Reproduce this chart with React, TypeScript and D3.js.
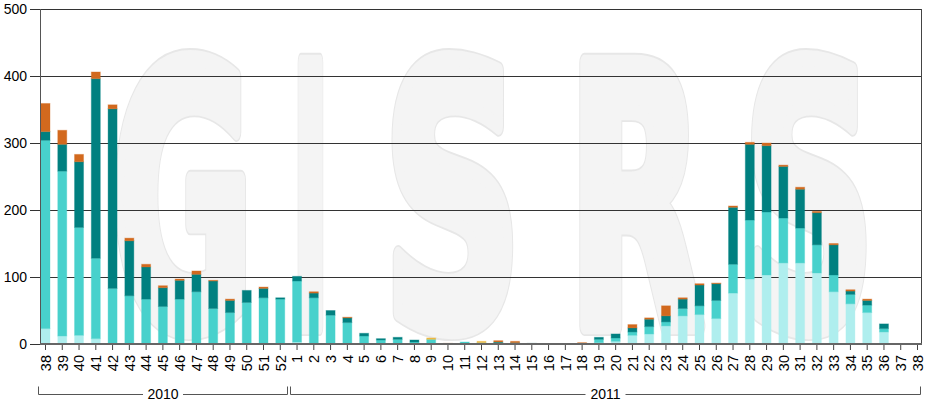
import React, { useEffect, useRef } from 'react';
import * as d3 from 'd3';

// ISO weeks, 2010 w38 -> 2011 w38
const weeks = [
  '38', '39', '40', '41', '42', '43', '44', '45', '46', '47', '48', '49', '50', '51', '52',
  '1', '2', '3', '4', '5', '6', '7', '8', '9', '10', '11', '12', '13', '14', '15', '16', '17', '18', '19',
  '20', '21', '22', '23', '24', '25', '26', '27', '28', '29', '30', '31', '32', '33', '34', '35', '36', '37', '38',
];

const years = [
  { label: '2010', from: 0, to: 14 },
  { label: '2011', from: 15, to: 52 },
];

const paleValues = [
  23, 12, 13, 8, 0, 0, 0, 0, 0, 0, 0, 0, 0, 0, 0,
  3, 0, 0, 0, 0, 0, 0, 0, 0, 0, 1, 1, 0, 0, 0, 0, 0, 0, 2,
  4, 13, 15, 27, 42, 44, 38, 76, 97, 103, 121, 121, 106, 78, 60, 47, 18, 0, 0,
];
const mediumValues = [
  281, 246, 161, 120, 83, 72, 67, 56, 67, 78, 53, 47, 62, 69, 67,
  91, 69, 43, 32, 12, 6, 7, 3, 7, 0, 2, 1, 2, 1, 0, 0, 0, 0, 5,
  5, 5, 11, 6, 11, 13, 27, 43, 88, 94, 67, 52, 42, 25, 14, 11, 5, 0, 0,
];
const tealValues = [
  13, 40, 98, 268, 268, 82, 48, 28, 28, 26, 41, 18, 18, 14, 2,
  7, 7, 7, 7, 4, 2, 3, 3, 0, 0, 0, 0, 1, 1, 1, 0, 0, 0, 3,
  6, 6, 11, 9, 14, 31, 25, 85, 113, 99, 77, 58, 48, 45, 5, 7, 7, 0, 0,
];
const orangeValues = [
  42, 21, 11, 10, 6, 4, 4, 3, 2, 5, 1, 2, 0, 2, 0,
  0, 2, 0, 1, 0, 0, 0, 0, 0, 1, 0, 0, 2, 2, 0, 0, 0, 2, 0,
  0, 5, 2, 15, 2, 2, 1, 2, 3, 4, 2, 3, 2, 2, 2, 2, 0, 0, 0,
];
const yellowValues = [
  0, 0, 0, 0, 0, 0, 0, 0, 0, 0, 0, 0, 0, 0, 0,
  0, 0, 0, 0, 0, 0, 0, 0, 2, 0, 0, 2, 0, 0, 0, 0, 0, 0, 0,
  0, 0, 0, 0, 0, 0, 0, 0, 0, 0, 0, 0, 0, 0, 0, 0, 0, 0, 0,
];

const seriesKeys = ['pale', 'medium', 'teal', 'orange', 'yellow'];
const seriesColors = ['#afeeee', '#48d1cc', '#008080', '#d2691e', '#f0b840'];
const yTicks = [0, 100, 200, 300, 400, 500];

const width = 929;
const height = 403;
const FONT = "Arial, 'Liberation Sans', sans-serif";

export default function App() {
  const svgRef = useRef<SVGSVGElement | null>(null);

  useEffect(() => {
    const svg = d3.select(svgRef.current);
    svg.selectAll('*').remove();

    const plotLeft = 40;
    const plotRight = 921;
    const plotTop = 9;
    const plotBottom = 344;

    const rows = weeks.map((w, i) => ({
      idx: String(i),
      pale: paleValues[i],
      medium: mediumValues[i],
      teal: tealValues[i],
      orange: orangeValues[i],
      yellow: yellowValues[i],
    }));

    const x = d3.scalePoint<string>()
      .domain(rows.map(d => d.idx))
      .range([45, 917]);

    const y = d3.scaleLinear()
      .domain([0, 500])
      .range([plotBottom, plotTop]);

    const color = d3.scaleOrdinal<string, string>().domain(seriesKeys).range(seriesColors);

    // watermark (heavy letters, stretched vertically)
    const letters = [
      { ch: 'G', x0: 111, x1: 254 },
      { ch: 'I', x0: 291, x1: 330 },
      { ch: 'S', x0: 383, x1: 522 },
      { ch: 'R', x0: 568, x1: 704 },
      { ch: 'S', x0: 743, x1: 875 },
    ];
    const wm = svg.append('g')
      .attr('transform', `translate(0, 326) scale(1, 1.9)`);
    const drawLetters = (stroke: string, fill: string, sw: number) => {
      wm.append('g')
        .selectAll('text')
        .data(letters)
        .join('text')
        .attr('x', d => d.x0)
        .attr('y', 0)
        .attr('textLength', d => d.x1 - d.x0)
        .attr('lengthAdjust', 'spacingAndGlyphs')
        .attr('font-family', "'DejaVu Sans', sans-serif")
        .attr('font-weight', 'bold')
        .attr('font-size', 190)
        .attr('fill', fill)
        .attr('stroke', stroke)
        .attr('stroke-width', sw)
        .attr('stroke-linejoin', 'round')
        .attr('vector-effect', 'non-scaling-stroke')
        .text(d => d.ch);
    };
    drawLetters('#e7e7e7', '#e7e7e7', 16);
    drawLetters('#f4f4f4', '#f4f4f4', 13);

    // grid lines
    svg.append('g')
      .selectAll('line')
      .data(yTicks.filter(t => t > 0))
      .join('line')
      .attr('x1', plotLeft)
      .attr('x2', plotRight)
      .attr('y1', d => Math.round(y(d)) + 0.5)
      .attr('y2', d => Math.round(y(d)) + 0.5)
      .attr('stroke', '#333')
      .attr('stroke-width', 1);

    // right border
    svg.append('line')
      .attr('x1', plotRight + 0.5).attr('x2', plotRight + 0.5)
      .attr('y1', plotTop).attr('y2', plotBottom)
      .attr('stroke', '#444');

    // stacked bars
    const stacked = d3.stack<any>().keys(seriesKeys)(rows);
    const barW = 9;
    svg.append('g')
      .selectAll('g')
      .data(stacked)
      .join('g')
      .attr('fill', d => color(d.key))
      .attr('stroke', d => color(d.key))
      .attr('stroke-opacity', 0.35)
      .attr('stroke-width', 1)
      .selectAll('rect')
      .data(d => d.filter(s => s[1] - s[0] > 0))
      .join('rect')
      .attr('x', d => (x(d.data.idx) as number) + 0.5 - barW / 2)
      .attr('width', barW)
      .attr('y', d => y(d[1]))
      .attr('height', d => y(d[0]) - y(d[1]));

    // y axis
    const yAxis = svg.append('g')
      .attr('transform', `translate(${plotLeft}, 0)`)
      .call(d3.axisLeft(y).tickValues(yTicks).tickSize(10).tickPadding(3).tickFormat(d3.format('d')));
    yAxis.select('.domain').remove();
    yAxis.selectAll('.tick line').attr('stroke', '#333');
    yAxis.selectAll('.tick text')
      .attr('font-family', FONT)
      .attr('font-size', 14)
      .attr('fill', '#000');
    svg.append('line')
      .attr('x1', plotLeft + 0.5).attr('x2', plotLeft + 0.5)
      .attr('y1', plotTop).attr('y2', plotBottom)
      .attr('stroke', '#555');

    // x axis
    const xAxis = svg.append('g')
      .attr('transform', `translate(0, ${plotBottom})`)
      .call(d3.axisBottom(x).tickSize(6).tickFormat(d => weeks[+d]));
    xAxis.select('.domain').remove();
    xAxis.selectAll('.tick line').attr('stroke', '#444');
    xAxis.selectAll('.tick text')
      .attr('font-family', FONT)
      .attr('font-size', 14.5)
      .attr('fill', '#000')
      .attr('transform', 'rotate(-90)')
      .attr('text-anchor', 'end')
      .attr('x', -11)
      .attr('y', 0)
      .attr('dy', '0.36em');
    svg.append('line')
      .attr('x1', plotLeft).attr('x2', plotRight + 1)
      .attr('y1', plotBottom).attr('y2', plotBottom)
      .attr('stroke', '#666')
      .attr('stroke-width', 2);

    // year brackets
    const half = 7;
    const bracketY = 394.5;
    const yearG = svg.append('g').attr('stroke', '#555').attr('fill', 'none');
    years.forEach(yr => {
      const x0 = Math.round((x(String(yr.from)) as number) - half) + 0.5;
      const x1 = Math.min(Math.round((x(String(yr.to)) as number) + half), plotRight - 1) + 0.5;
      const cx = (x0 + x1) / 2;
      const gap = 20;
      yearG.append('path')
        .attr('d', `M${x0},${bracketY - 8}V${bracketY}H${cx - gap}M${cx + gap},${bracketY}H${x1}V${bracketY - 8}`);
      svg.append('text')
        .attr('x', cx)
        .attr('y', 398.5)
        .attr('text-anchor', 'middle')
        .attr('font-family', FONT)
        .attr('font-size', 14)
        .attr('fill', '#000')
        .text(yr.label);
    });
  }, []);

  return (
    <svg
      ref={svgRef}
      width={width}
      height={height}
      style={{ position: 'absolute', left: 0, top: 0, display: 'block', background: '#fff' }}
    />
  );
}
